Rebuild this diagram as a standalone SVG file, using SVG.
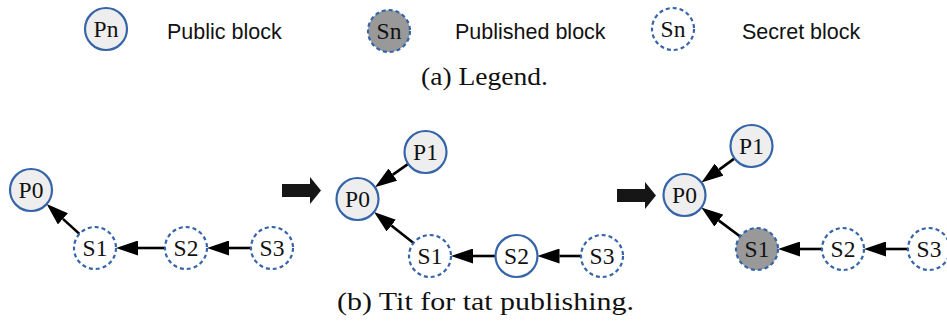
<svg xmlns="http://www.w3.org/2000/svg" width="947" height="324" viewBox="0 0 947 324">
  <style>
    .blk { stroke: #3565a8; stroke-width: 2.2; }
    .public { fill: #eeeeee; }
    .published { fill: #999999; stroke-dasharray: 4 3; }
    .secret { fill: #ffffff; stroke-dasharray: 4 3; }
    .solid-secret { fill: #ffffff; }
    .lbl { font-family: "Liberation Serif", "Times New Roman", serif; font-size: 23.5px; fill: #111; text-anchor: middle; }
    .legend { font-family: "Liberation Sans", Arial, sans-serif; font-size: 21.5px; fill: #111; }
    .cap { font-family: "Liberation Serif", "Times New Roman", serif; font-size: 26px; fill: #111; }
    .edge { stroke: #000; stroke-width: 2.6; fill: none; marker-end: url(#head); }
    .step { fill: #161616; }
  </style>
  <defs>
    <marker id="head" markerUnits="userSpaceOnUse" markerWidth="22" markerHeight="15" viewBox="0 0 22 15" refX="0" refY="7.5" orient="auto">
      <path d="M0,0 L22,7.5 L0,15 z" fill="#000"/>
    </marker>
    <path id="bigArrow" d="M0,7 H28 V0 L39,13.5 L28,27 V20 H0 z"/>
  </defs>

  <!-- legend -->
  <g id="legend-public">
    <circle class="blk public" cx="106" cy="29" r="21"/>
    <text class="lbl" x="106" y="37">Pn</text>
    <text class="legend" x="167" y="39">Public block</text>
  </g>
  <g id="legend-published">
    <circle class="blk published" cx="389" cy="31" r="21"/>
    <text class="lbl" x="389" y="39">Sn</text>
    <text class="legend" x="455" y="39">Published block</text>
  </g>
  <g id="legend-secret">
    <circle class="blk secret" cx="673" cy="29" r="21"/>
    <text class="lbl" x="673" y="37">Sn</text>
    <text class="legend" x="742" y="39">Secret block</text>
  </g>
  <text class="cap" x="421" y="85" textLength="127" lengthAdjust="spacingAndGlyphs">(a) Legend.</text>

  <!-- step arrows between stages -->
  <g id="step1"><use href="#bigArrow" class="step" x="282" y="177"/></g>
  <g id="step2"><use href="#bigArrow" class="step" x="617" y="182"/></g>

  <!-- connectors -->
  <g id="connectors">
    <!-- stage 1 -->
    <line class="edge" x1="79.4" y1="233.9" x2="62.9" y2="218.9"/>
    <line class="edge" x1="165" y1="248" x2="138" y2="248"/>
    <line class="edge" x1="251" y1="248" x2="229" y2="248"/>
    <!-- stage 2 -->
    <line class="edge" x1="408.2" y1="163.9" x2="392.9" y2="174.6"/>
    <line class="edge" x1="413.5" y1="243" x2="391.3" y2="225.6"/>
    <line class="edge" x1="495.5" y1="256" x2="473" y2="256"/>
    <line class="edge" x1="581" y1="256" x2="559.5" y2="256"/>
    <!-- stage 3 -->
    <line class="edge" x1="734.6" y1="158.4" x2="719.2" y2="169.6"/>
    <line class="edge" x1="740.2" y1="236.5" x2="718.9" y2="220.6"/>
    <line class="edge" x1="822" y1="249" x2="800" y2="249"/>
    <line class="edge" x1="908" y1="249" x2="886" y2="249"/>
  </g>

  <!-- stage 1 -->
  <g id="s1-P0"><circle class="blk public" cx="31" cy="190" r="21"/><text class="lbl" x="31" y="198">P0</text></g>
  <g id="s1-S1"><circle class="blk secret" cx="95" cy="248" r="21"/><text class="lbl" x="95" y="256">S1</text></g>
  <g id="s1-S2"><circle class="blk secret" cx="186" cy="248" r="21"/><text class="lbl" x="186" y="256">S2</text></g>
  <g id="s1-S3"><circle class="blk secret" cx="272" cy="248" r="21"/><text class="lbl" x="272" y="256">S3</text></g>

  <!-- stage 2 -->
  <g id="s2-P1"><circle class="blk public" cx="425.5" cy="152" r="21"/><text class="lbl" x="425.5" y="160">P1</text></g>
  <g id="s2-P0"><circle class="blk public" cx="357.5" cy="199" r="21"/><text class="lbl" x="357.5" y="207">P0</text></g>
  <g id="s2-S1"><circle class="blk secret" cx="430" cy="256" r="21"/><text class="lbl" x="430" y="264">S1</text></g>
  <g id="s2-S2"><circle class="blk solid-secret" cx="516.5" cy="256" r="21"/><text class="lbl" x="516.5" y="264">S2</text></g>
  <g id="s2-S3"><circle class="blk secret" cx="602" cy="256" r="21"/><text class="lbl" x="602" y="264">S3</text></g>

  <!-- stage 3 -->
  <g id="s3-P1"><circle class="blk public" cx="751.5" cy="146" r="21"/><text class="lbl" x="751.5" y="154">P1</text></g>
  <g id="s3-P0"><circle class="blk public" cx="684.5" cy="195" r="21"/><text class="lbl" x="684.5" y="203">P0</text></g>
  <g id="s3-S1"><circle class="blk published" cx="757" cy="249" r="21"/><text class="lbl" x="757" y="257">S1</text></g>
  <g id="s3-S2"><circle class="blk secret" cx="843" cy="249" r="21"/><text class="lbl" x="843" y="257">S2</text></g>
  <g id="s3-S3"><circle class="blk secret" cx="929" cy="249" r="21"/><text class="lbl" x="929" y="257">S3</text></g>

  <text class="cap" x="337" y="310" textLength="297" lengthAdjust="spacingAndGlyphs">(b) Tit for tat publishing.</text>
</svg>
